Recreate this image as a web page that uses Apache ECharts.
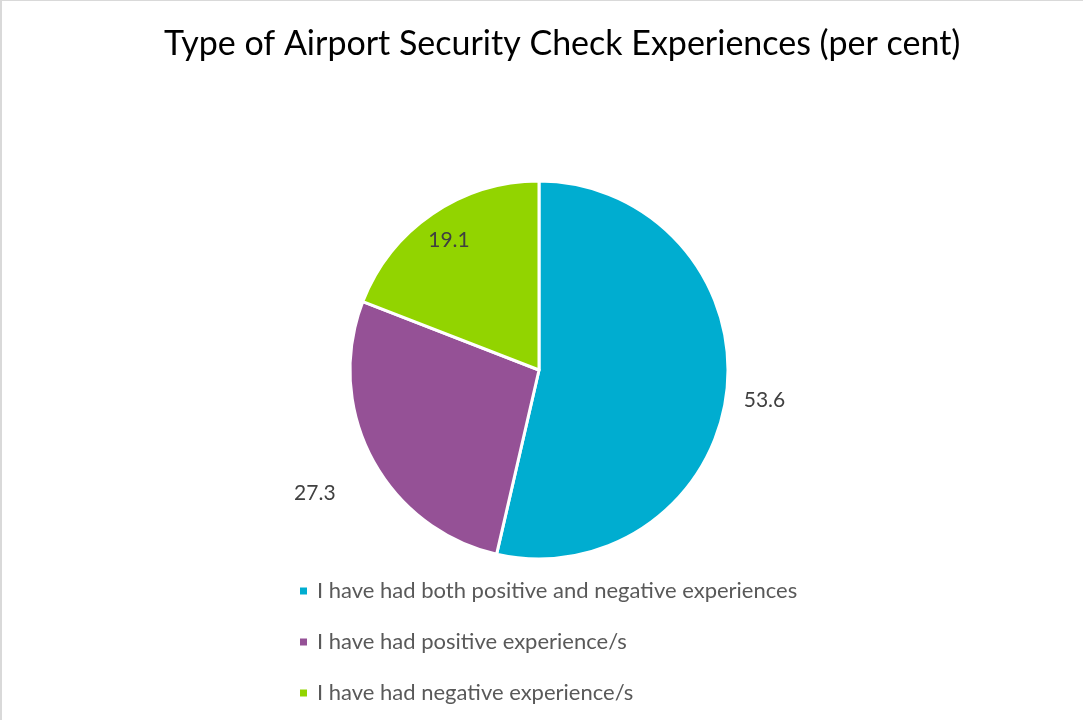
<!DOCTYPE html>
<html>
<head>
<meta charset="utf-8">
<script src="https://cdn.jsdelivr.net/npm/echarts@6/dist/echarts.min.js"></script>
<style>
    html, body { margin: 0; padding: 0; background: #fff; }
    #chart { width: 1083px; height: 720px; box-sizing: border-box; border-top: 1px solid #d9d9d9; border-left: 2px solid #d9d9d9; }
</style>
</head>
<body>
<div id="chart"></div>
<script>
// 图表数据
const categories = [
    'I have had both positive and negative experiences',
    'I have had positive experience/s',
    'I have had negative experience/s'
];
const values = [53.6, 27.3, 19.1];
const colors = ['#00ADD0', '#955196', '#92D400'];

// 初始化图表
let chart = echarts.init(document.getElementById('chart'));

// 每个扇区的标签设置
const labelSettings = [
    {position: 'outside', offset: [0, 8]},
    {position: 'outside', offset: [4, 16]},
    {position: 'inside', offset: [-35, -49]}
];
const lineLengths = [12, 40, 10];

let option = {
    title: {
        text: 'Type of Airport Security Check Experiences (per cent)',
        left: 157,
        top: 21,
        textStyle: {
            fontFamily: 'Lato',
            fontSize: 34,
            fontWeight: 'normal',
            color: '#000'
        }
    },
    legend: {
        orient: 'vertical',
        left: 296,
        top: 578,
        padding: 0,
        itemWidth: 9,
        itemHeight: 9,
        itemGap: 27,
        icon: 'rect',
        textStyle: {
            fontFamily: 'Lato',
            fontSize: 22,
            lineHeight: 24,
            color: '#595959',
            padding: [0, 0, 0, 4]
        },
        data: categories
    },
    series: [
        {
            type: 'pie',
            center: [537, 369],
            radius: 189,
            startAngle: 90,
            clockwise: true,
            silent: true,
            itemStyle: {
                borderColor: '#fff',
                borderWidth: 3
            },
            label: {
                formatter: '{c}',
                fontFamily: 'Lato',
                fontSize: 21,
                color: '#404040'
            },
            labelLine: {
                show: false
            },
            data: categories.map((name, i) => ({
                name: name,
                value: values[i],
                itemStyle: {color: colors[i]},
                label: labelSettings[i],
                labelLine: {show: false, length: lineLengths[i], length2: 0}
            }))
        }
    ]
};

chart.setOption(option);
</script>
</body>
</html>
